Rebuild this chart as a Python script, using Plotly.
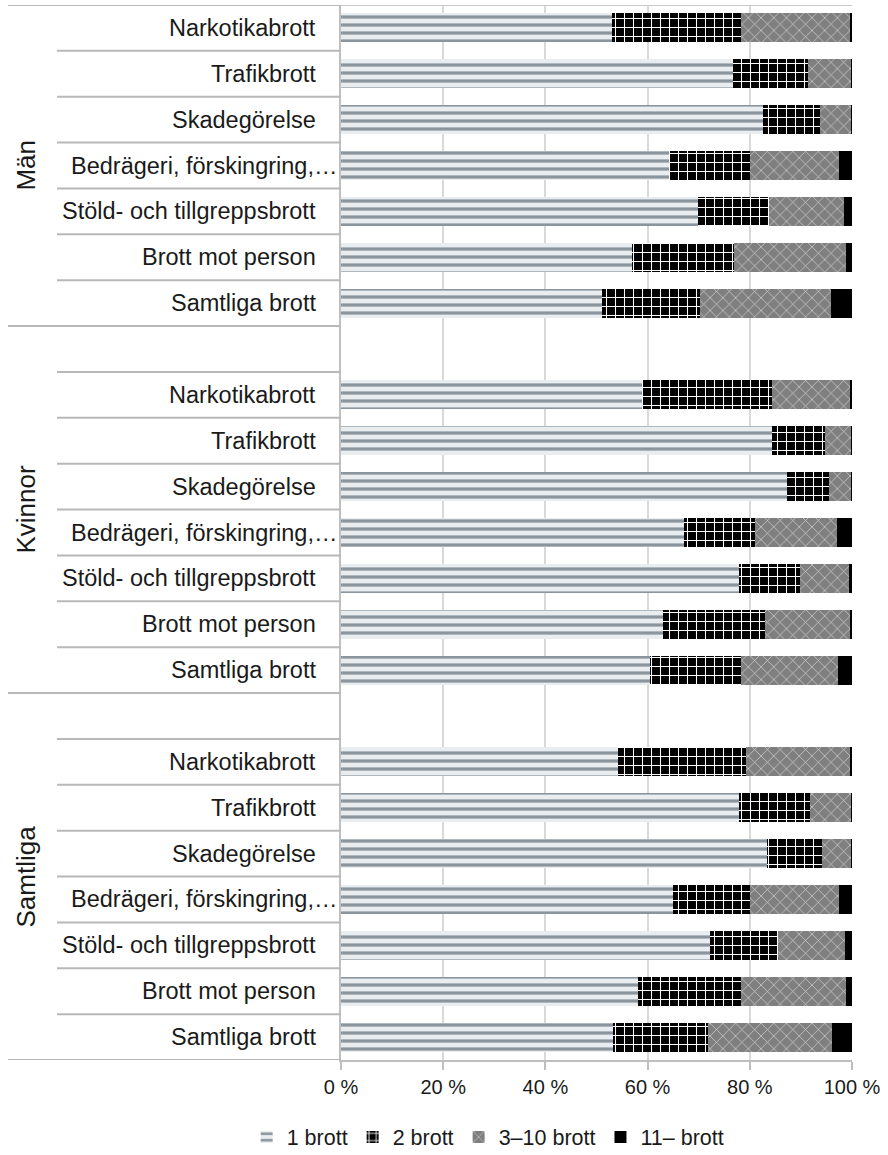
import plotly.graph_objects as go

groups = ["Män", "Kvinnor", "Samtliga"]
crimes = ["Narkotikabrott", "Trafikbrott", "Skadegörelse",
          "Bedrägeri, förskingring,…", "Stöld- och tillgreppsbrott",
          "Brott mot person", "Samtliga brott"]
series_names = ["1 brott", "2 brott", "3–10 brott", "11– brott"]
tick_values = [0, 20, 40, 60, 80, 100]
tick_labels = ["0 %", "20 %", "40 %", "60 %", "80 %", "100 %"]

man_1 = [53.1, 76.7, 82.5, 64.2, 69.9, 56.9, 51.1]
man_2 = [25.1, 14.6, 11.2, 15.9, 13.9, 20.1, 19.1]
man_3 = [21.4, 8.6, 6.2, 17.4, 14.6, 21.8, 25.6]
man_4 = [0.4, 0.1, 0.1, 2.5, 1.6, 1.2, 4.2]

kvinnor_1 = [58.9, 84.3, 87.3, 67.2, 77.8, 63.1, 60.4]
kvinnor_2 = [25.5, 10.5, 8.2, 13.8, 12.0, 19.8, 17.8]
kvinnor_3 = [15.4, 5.1, 4.4, 16.1, 9.6, 16.7, 19.1]
kvinnor_4 = [0.2, 0.1, 0.1, 2.9, 0.6, 0.4, 2.7]

samtliga_1 = [54.2, 77.8, 83.3, 65.0, 72.2, 58.1, 53.3]
samtliga_2 = [25.0, 14.0, 10.8, 15.0, 13.3, 20.1, 18.6]
samtliga_3 = [20.4, 8.1, 5.8, 17.5, 13.1, 20.6, 24.2]
samtliga_4 = [0.4, 0.1, 0.1, 2.5, 1.4, 1.2, 3.9]

group_data = {
    "Män": [man_1, man_2, man_3, man_4],
    "Kvinnor": [kvinnor_1, kvinnor_2, kvinnor_3, kvinnor_4],
    "Samtliga": [samtliga_1, samtliga_2, samtliga_3, samtliga_4],
}

# category order top -> bottom (blank separator row at top of later groups)
cat_order = []
for gi, g in enumerate(groups):
    if gi > 0:
        cat_order.append(g + "|")
    for c in crimes:
        cat_order.append(g + "|" + c)

styles = [
    dict(bg="#e9edf0", fg="#8a959e", shape="-", size=8, solidity=0.4),
    dict(bg="#000000", fg="#ffffff", shape="+", size=9, solidity=0.22),
    dict(bg="#7f7f7f", fg="#d4d4d4", shape="x", size=9, solidity=0.15),
    dict(bg="#000000", fg="#000000", shape="", size=8, solidity=0.3),
]

fig = go.Figure()
for si, name in enumerate(series_names):
    ys, xs = [], []
    for g in groups:
        for ci, c in enumerate(crimes):
            ys.append(g + "|" + c)
            xs.append(group_data[g][si][ci])
    st = styles[si]
    fig.add_trace(go.Bar(
        name=name, y=ys, x=xs, orientation="h",
        marker=dict(color=st["bg"], line=dict(width=0),
                    pattern=dict(shape=st["shape"], fgcolor=st["fg"],
                                 bgcolor=st["bg"], size=st["size"],
                                 solidity=st["solidity"], fillmode="replace")),
    ))

font_family = "Liberation Sans, Arial, sans-serif"
line_col = "#b8b8b8"

def px_to_paper(px):
    return (px - 341) / 511.0

shapes = []
annotations = []
# full-width group boundary lines
for yb in [-0.5, 6.5, 14.5, 22.5]:
    shapes.append(dict(type="line", xref="paper", yref="y",
                       x0=px_to_paper(8), x1=0, y0=yb, y1=yb,
                       line=dict(color=line_col, width=2)))
# top border of plot area
shapes.append(dict(type="line", xref="paper", yref="y", x0=0, x1=1,
                   y0=-0.5, y1=-0.5, line=dict(color="#c8c8c8", width=2)))
# short row boundary lines
for idx in range(len(cat_order) - 1):
    yb = idx + 0.5
    if yb in (6.5, 14.5):
        continue
    shapes.append(dict(type="line", xref="paper", yref="y",
                       x0=px_to_paper(57), x1=0, y0=yb, y1=yb,
                       line=dict(color=line_col, width=2)))

# category labels
for g in groups:
    for c in crimes:
        right_px = 339 if c.startswith("Bedrägeri") else 318
        annotations.append(dict(
            x=px_to_paper(right_px), xref="paper", y=g + "|" + c, yref="y",
            text=c, showarrow=False, xanchor="right", yanchor="middle",
            font=dict(family=font_family, size=23.5, color="#1a1a1a")))

# group labels
group_centers = {"Män": 3, "Kvinnor": 10.5, "Samtliga": 18.5}
for g in groups:
    annotations.append(dict(
        x=px_to_paper(26), xref="paper", y=group_centers[g], yref="y",
        text=g, textangle=-90, showarrow=False, xanchor="center",
        yanchor="middle",
        font=dict(family=font_family, size=26, color="#1a1a1a")))

fig.update_layout(
    width=888, height=1155,
    margin=dict(l=341, r=36, t=5, b=95, autoexpand=False),
    barmode="stack", bargap=0.37,
    plot_bgcolor="white", paper_bgcolor="white",
    font=dict(family=font_family, size=20, color="#1a1a1a"),
    showlegend=True,
    legend=dict(orientation="h", x=0.288, xanchor="center", y=-0.073,
                yanchor="middle", font=dict(size=21.5), traceorder="normal",
                itemwidth=30),
    xaxis=dict(range=[0, 100], tickvals=tick_values, ticktext=tick_labels,
               showgrid=True, gridcolor="#d9d9d9", gridwidth=2,
               showline=True, linecolor="#bfbfbf", linewidth=2,
               ticks="outside", ticklen=8, tickcolor="#bfbfbf", tickwidth=2,
               zeroline=False, tickfont=dict(size=20)),
    yaxis=dict(type="category", categoryorder="array", categoryarray=cat_order,
               range=[len(cat_order) - 0.5, -0.5],
               showticklabels=False, showgrid=False, showline=True,
               linecolor="#bfbfbf", linewidth=2, ticks="", zeroline=False),
    shapes=shapes, annotations=annotations,
)

fig.write_html("out.html", config={"displayModeBar": False},
               post_script="document.body.style.margin='0';")
